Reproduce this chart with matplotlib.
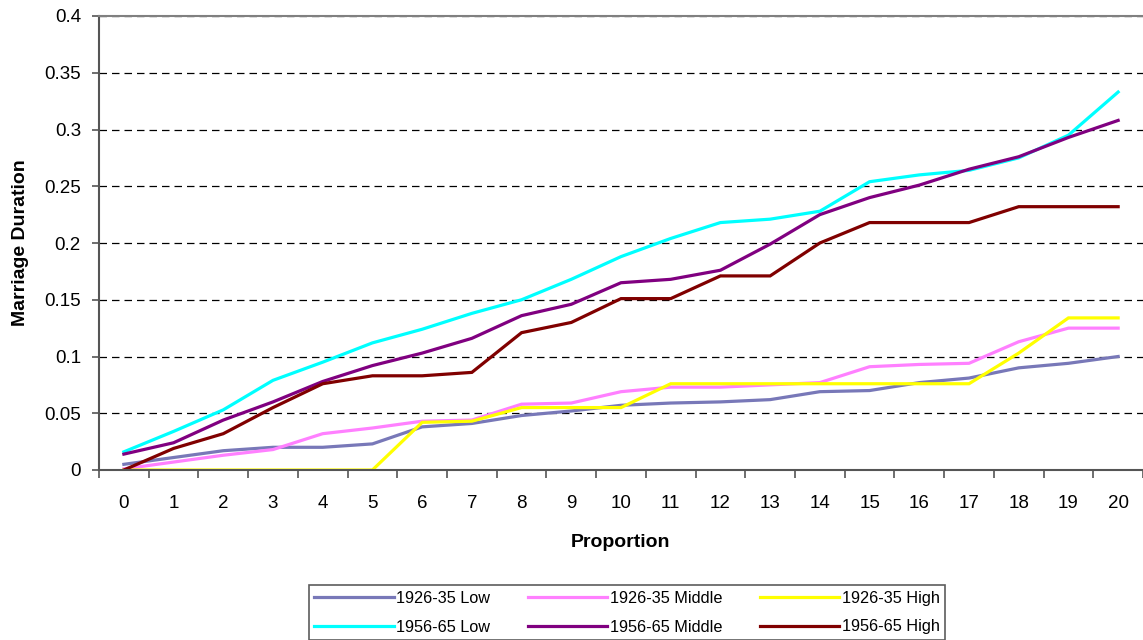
import matplotlib
matplotlib.use("Agg")
import matplotlib.pyplot as plt
from matplotlib.ticker import FixedLocator

plt.rcParams['font.family'] = ['Liberation Sans', 'DejaVu Sans']

proportion = list(range(21))
low_1926 = [0.005, 0.011, 0.017, 0.020, 0.020, 0.023, 0.038, 0.041, 0.048, 0.052, 0.057,
            0.059, 0.060, 0.062, 0.069, 0.070, 0.077, 0.081, 0.090, 0.094, 0.100]
mid_1926 = [0.001, 0.007, 0.013, 0.018, 0.032, 0.037, 0.043, 0.044, 0.058, 0.059, 0.069,
            0.073, 0.073, 0.075, 0.077, 0.091, 0.093, 0.094, 0.113, 0.125, 0.125]
high_1926 = [0.0, 0.0, 0.0, 0.0, 0.0, 0.0, 0.042, 0.043, 0.055, 0.055, 0.055,
             0.076, 0.076, 0.076, 0.076, 0.076, 0.076, 0.076, 0.103, 0.134, 0.134]
low_1956 = [0.016, 0.034, 0.053, 0.079, 0.095, 0.112, 0.124, 0.138, 0.150, 0.168, 0.188,
            0.204, 0.218, 0.221, 0.228, 0.254, 0.260, 0.264, 0.275, 0.295, 0.333]
mid_1956 = [0.014, 0.024, 0.044, 0.060, 0.078, 0.092, 0.103, 0.116, 0.136, 0.146, 0.165,
            0.168, 0.176, 0.199, 0.225, 0.240, 0.251, 0.265, 0.276, 0.293, 0.308]
high_1956 = [0.0, 0.019, 0.032, 0.055, 0.076, 0.083, 0.083, 0.086, 0.121, 0.130, 0.151,
             0.151, 0.171, 0.171, 0.200, 0.218, 0.218, 0.218, 0.232, 0.232, 0.232]

y_ticks = [0, 0.05, 0.1, 0.15, 0.2, 0.25, 0.3, 0.35, 0.4]
y_tick_labels = ["0", "0.05", "0.1", "0.15", "0.2", "0.25", "0.3", "0.35", "0.4"]

series = [
    ("1926-35 Low", low_1926, "#7878B8"),
    ("1926-35 Middle", mid_1926, "#FF80FF"),
    ("1926-35 High", high_1926, "#FFFF00"),
    ("1956-65 Low", low_1956, "#00FFFF"),
    ("1956-65 Middle", mid_1956, "#800080"),
    ("1956-65 High", high_1956, "#800000"),
]

W, H = 1143, 640
fig = plt.figure(figsize=(W / 100, H / 100), dpi=100)
ax = fig.add_axes([99 / W, 1 - 470 / H, (1143 - 99) / W, (470 - 16) / H])

handles = []
for name, vals, col in series:
    h, = ax.plot(proportion, vals, color=col, lw=2.3, label=name, solid_joinstyle='miter')
    handles.append(h)

ax.set_xlim(-0.5, 20.5)
ax.set_ylim(0, 0.4)
ax.set_yticks(y_ticks)
ax.set_yticklabels(y_tick_labels)
ax.set_xticks(proportion)
ax.set_xticklabels([str(p) for p in proportion])
ax.xaxis.set_minor_locator(FixedLocator([p - 0.5 for p in range(22)]))
ax.tick_params(axis='x', which='major', length=0, pad=18, labelsize=13.5)
ax.tick_params(axis='x', which='minor', length=6, width=1.2, color='#555555', direction='out')
ax.tick_params(axis='y', length=5, width=1.2, color='#555555', labelsize=13.5,
               direction='out', pad=8)
ax.yaxis.grid(True, linestyle=(0, (6, 4)), color='black', lw=0.9)
ax.set_axisbelow(True)
for s in ['top', 'left', 'bottom']:
    ax.spines[s].set_color('#555555')
    ax.spines[s].set_linewidth(1.5)
ax.spines['top'].set_color('#808080')
ax.spines['right'].set_visible(False)

ax.set_xlabel("Proportion", fontsize=14, fontweight='bold', labelpad=16)
ax.set_ylabel("Marriage Duration", fontsize=14, fontweight='bold', labelpad=11)

order = [0, 3, 1, 4, 2, 5]
leg = fig.legend([handles[i] for i in order], [series[i][0] for i in order],
                 loc='upper center', bbox_to_anchor=(627 / W, 1 - 585 / H), ncol=3,
                 fontsize=11.7, frameon=True, fancybox=False, edgecolor='#333333',
                 handlelength=4.9, columnspacing=2.3, handletextpad=0.15,
                 borderpad=0.35, labelspacing=0.85, borderaxespad=0)
leg.get_frame().set_linewidth(1.2)

fig.savefig("out.png", dpi=100)
